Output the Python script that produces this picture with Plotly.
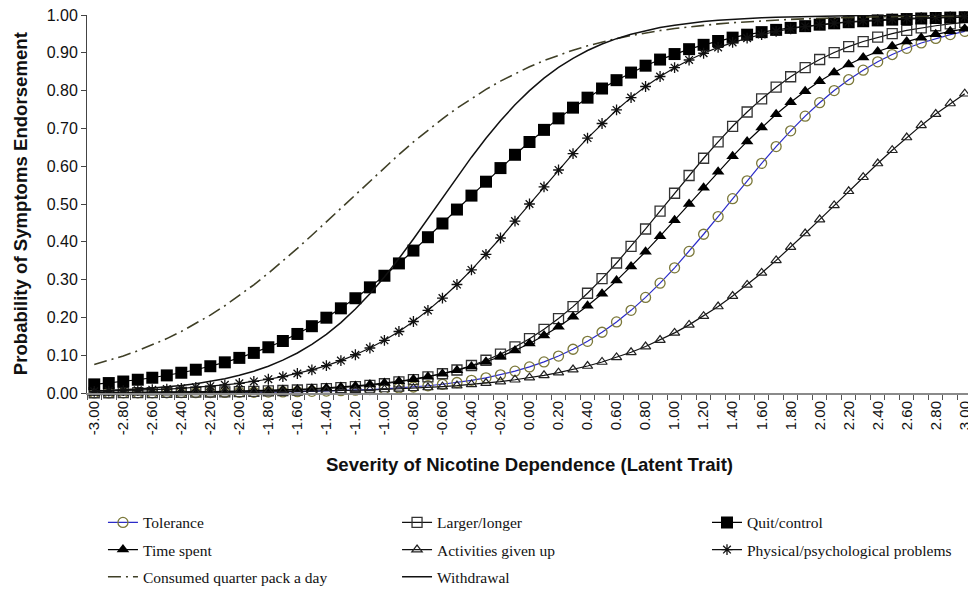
import plotly.graph_objects as go

theta = [-3.0, -2.9, -2.8, -2.7, -2.6, -2.5, -2.4, -2.3, -2.2, -2.1,
         -2.0, -1.9, -1.8, -1.7, -1.6, -1.5, -1.4, -1.3, -1.2, -1.1,
         -1.0, -0.9, -0.8, -0.7, -0.6, -0.5, -0.4, -0.3, -0.2, -0.1,
         0.0, 0.1, 0.2, 0.3, 0.4, 0.5, 0.6, 0.7, 0.8, 0.9,
         1.0, 1.1, 1.2, 1.3, 1.4, 1.5, 1.6, 1.7, 1.8, 1.9,
         2.0, 2.1, 2.2, 2.3, 2.4, 2.5, 2.6, 2.7, 2.8, 2.9, 3.0]

tolerance = [0.0002, 0.0003, 0.0004, 0.0004, 0.0005, 0.0006, 0.0008, 0.0009, 0.0011, 0.0014,
             0.0017, 0.0020, 0.0024, 0.0029, 0.0035, 0.0043, 0.0051, 0.0062, 0.0075, 0.0091,
             0.0110, 0.0132, 0.0159, 0.0192, 0.0231, 0.0278, 0.0335, 0.0402, 0.0482, 0.0577,
             0.0690, 0.0822, 0.0977, 0.1158, 0.1367, 0.1607, 0.1880, 0.2187, 0.2529, 0.2905,
             0.3311, 0.3745, 0.4200, 0.4668, 0.5142, 0.5614, 0.6075, 0.6518, 0.6936, 0.7324,
             0.7680, 0.8001, 0.8288, 0.8540, 0.8762, 0.8954, 0.9119, 0.9260, 0.9380, 0.9482, 0.9568]

larger_longer = [0.0006, 0.0007, 0.0008, 0.0010, 0.0012, 0.0015, 0.0018, 0.0021, 0.0026, 0.0031,
                 0.0037, 0.0045, 0.0055, 0.0066, 0.0080, 0.0096, 0.0116, 0.0140, 0.0169, 0.0203,
                 0.0245, 0.0294, 0.0354, 0.0425, 0.0509, 0.0609, 0.0727, 0.0866, 0.1028, 0.1218,
                 0.1436, 0.1685, 0.1969, 0.2286, 0.2639, 0.3024, 0.3439, 0.3879, 0.4339, 0.4810,
                 0.5285, 0.5754, 0.6210, 0.6646, 0.7056, 0.7434, 0.7780, 0.8091, 0.8367, 0.8610,
                 0.8823, 0.9006, 0.9164, 0.9298, 0.9413, 0.9509, 0.9591, 0.9659, 0.9716, 0.9765, 0.9804]

quit_control = [0.0228, 0.0263, 0.0304, 0.0351, 0.0404, 0.0466, 0.0536, 0.0616, 0.0708, 0.0811,
                0.0929, 0.1061, 0.1210, 0.1376, 0.1562, 0.1767, 0.1992, 0.2240, 0.2507, 0.2795,
                0.3102, 0.3428, 0.3768, 0.4121, 0.4484, 0.4853, 0.5222, 0.5590, 0.5950, 0.6302,
                0.6640, 0.6961, 0.7265, 0.7549, 0.7813, 0.8055, 0.8276, 0.8477, 0.8659, 0.8821,
                0.8967, 0.9096, 0.9211, 0.9312, 0.9401, 0.9479, 0.9547, 0.9607, 0.9659, 0.9705,
                0.9744, 0.9779, 0.9809, 0.9835, 0.9857, 0.9877, 0.9893, 0.9908, 0.9920, 0.9931, 0.9941]

time_spent = [0.0009, 0.0010, 0.0012, 0.0015, 0.0017, 0.0020, 0.0024, 0.0029, 0.0034, 0.0041,
              0.0048, 0.0057, 0.0068, 0.0080, 0.0095, 0.0113, 0.0134, 0.0159, 0.0188, 0.0222,
              0.0263, 0.0311, 0.0367, 0.0433, 0.0510, 0.0600, 0.0704, 0.0826, 0.0966, 0.1126,
              0.1310, 0.1519, 0.1754, 0.2017, 0.2308, 0.2627, 0.2973, 0.3345, 0.3738, 0.4148,
              0.4571, 0.5000, 0.5429, 0.5852, 0.6262, 0.6655, 0.7027, 0.7373, 0.7692, 0.7983,
              0.8246, 0.8481, 0.8690, 0.8874, 0.9034, 0.9174, 0.9296, 0.9400, 0.9490, 0.9567, 0.9633]

activities_given_up = [0.0005, 0.0005, 0.0006, 0.0007, 0.0009, 0.0010, 0.0012, 0.0013, 0.0016, 0.0018,
                       0.0021, 0.0024, 0.0028, 0.0033, 0.0038, 0.0044, 0.0051, 0.0060, 0.0069, 0.0080,
                       0.0093, 0.0108, 0.0126, 0.0145, 0.0169, 0.0196, 0.0226, 0.0262, 0.0303, 0.0351,
                       0.0405, 0.0468, 0.0539, 0.0621, 0.0714, 0.0820, 0.0941, 0.1077, 0.1229, 0.1400,
                       0.1591, 0.1802, 0.2034, 0.2288, 0.2564, 0.2860, 0.3176, 0.3509, 0.3858, 0.4219,
                       0.4588, 0.4963, 0.5337, 0.5708, 0.6071, 0.6422, 0.6759, 0.7079, 0.7379, 0.7659, 0.7917]

physical_psych = [0.0042, 0.0051, 0.0061, 0.0073, 0.0087, 0.0105, 0.0125, 0.0150, 0.0179, 0.0214,
                  0.0256, 0.0305, 0.0364, 0.0433, 0.0516, 0.0612, 0.0726, 0.0858, 0.1012, 0.1190,
                  0.1394, 0.1627, 0.1891, 0.2186, 0.2512, 0.2870, 0.3256, 0.3668, 0.4100, 0.4546,
                  0.5000, 0.5454, 0.5900, 0.6332, 0.6744, 0.7130, 0.7488, 0.7814, 0.8109, 0.8373,
                  0.8606, 0.8810, 0.8988, 0.9142, 0.9274, 0.9388, 0.9484, 0.9567, 0.9636, 0.9695,
                  0.9744, 0.9786, 0.9821, 0.9850, 0.9875, 0.9895, 0.9913, 0.9927, 0.9939, 0.9949, 0.9958]

consumed_quarter = [0.0753, 0.0860, 0.0981, 0.1117, 0.1269, 0.1439, 0.1627, 0.1833, 0.2061, 0.2309,
                    0.2576, 0.2863, 0.3168, 0.3490, 0.3826, 0.4174, 0.4530, 0.4891, 0.5254, 0.5613,
                    0.5967, 0.6310, 0.6641, 0.6956, 0.7254, 0.7533, 0.7793, 0.8032, 0.8251, 0.8451,
                    0.8631, 0.8794, 0.8939, 0.9069, 0.9185, 0.9287, 0.9377, 0.9456, 0.9527, 0.9588,
                    0.9641, 0.9688, 0.9729, 0.9765, 0.9796, 0.9823, 0.9847, 0.9867, 0.9885, 0.9900,
                    0.9913, 0.9925, 0.9935, 0.9944, 0.9952, 0.9958, 0.9964, 0.9968, 0.9973, 0.9976, 0.9980]

withdrawal = [0.0054, 0.0067, 0.0084, 0.0104, 0.0130, 0.0161, 0.0200, 0.0247, 0.0306, 0.0379,
              0.0468, 0.0577, 0.0709, 0.0868, 0.1059, 0.1285, 0.1550, 0.1863, 0.2220, 0.2623,
              0.3070, 0.3557, 0.4076, 0.4616, 0.5165, 0.5710, 0.6239, 0.6739, 0.7203, 0.7624,
              0.7999, 0.8328, 0.8613, 0.8855, 0.9060, 0.9232, 0.9374, 0.9491, 0.9588, 0.9667,
              0.9730, 0.9783, 0.9825, 0.9859, 0.9886, 0.9909, 0.9927, 0.9941, 0.9952, 0.9962,
              0.9969, 0.9975, 0.9980, 0.9984, 0.9987, 0.9990, 0.9992, 0.9993, 0.9995, 0.9996, 0.9997]

x_tick_values = [-3.0, -2.8, -2.6, -2.4, -2.2, -2.0, -1.8, -1.6, -1.4, -1.2, -1.0,
                 -0.8, -0.6, -0.4, -0.2, 0.0, 0.2, 0.4, 0.6, 0.8, 1.0,
                 1.2, 1.4, 1.6, 1.8, 2.0, 2.2, 2.4, 2.6, 2.8, 3.0]
x_tick_labels = ["-3.00", "-2.80", "-2.60", "-2.40", "-2.20", "-2.00", "-1.80", "-1.60", "-1.40", "-1.20", "-1.00",
                 "-0.80", "-0.60", "-0.40", "-0.20", "0.00", "0.20", "0.40", "0.60", "0.80", "1.00",
                 "1.20", "1.40", "1.60", "1.80", "2.00", "2.20", "2.40", "2.60", "2.80", "3.00"]
y_tick_values = [0, 0.1, 0.2, 0.3, 0.4, 0.5, 0.6, 0.7, 0.8, 0.9, 1.0]
category_edges = [-3.05 + 0.1 * i for i in range(62)]

for s in (tolerance, larger_longer, quit_control, time_spent, activities_given_up,
          physical_psych, consumed_quarter, withdrawal):
    assert len(s) == len(theta)

SANS = "Liberation Sans, Arial, sans-serif"
SERIF = "Liberation Serif, Times New Roman, serif"

fig = go.Figure()

def add(name, y, legend, line, marker=None, mode="lines+markers"):
    fig.add_trace(go.Scatter(
        x=theta, y=y, name=name, mode=mode, line=line, marker=marker,
        legend=legend, legendgroup=name, cliponaxis=False,
    ))

add("Tolerance", tolerance, "legend",
    dict(color="#2b2bc8", width=1.2),
    dict(symbol="circle-open", size=10, color="#7b783a", line=dict(width=1.3, color="#7b783a")))
add("Larger/longer", larger_longer, "legend2",
    dict(color="#111111", width=1.2),
    dict(symbol="square-open", size=10, color="#333333", line=dict(width=1.3, color="#333333")))
add("Quit/control", quit_control, "legend3",
    dict(color="#000000", width=1.2),
    dict(symbol="square", size=12, color="#000000"))
add("Time spent", time_spent, "legend",
    dict(color="#000000", width=1.2),
    dict(symbol="triangle-up", size=11, color="#000000"))
add("Activities given up", activities_given_up, "legend2",
    dict(color="#111111", width=1.2),
    dict(symbol="triangle-up-open", size=9, color="#222222", line=dict(width=1.2, color="#222222")))
add("Physical/psychological problems", physical_psych, "legend3",
    dict(color="#111111", width=1.2),
    dict(symbol="asterisk-open", size=9, color="#111111", line=dict(width=1.3, color="#111111")))
add("Consumed quarter pack a day", consumed_quarter, "legend",
    dict(color="#3f3f26", width=1.6, dash="13px,5px,2px,5px"), None, mode="lines")
add("Withdrawal", withdrawal, "legend2",
    dict(color="#111111", width=1.5), None, mode="lines")

legend_common = dict(
    xref="container", yref="container", xanchor="left", yanchor="top",
    orientation="v", tracegroupgap=4, bgcolor="rgba(0,0,0,0)",
    font=dict(family=SERIF, size=15.5, color="#111111"), itemwidth=30,
)

# The page body adds an 8px margin, so the figure is drawn 8px smaller and offset.
fig.update_layout(
    width=968, height=585,
    margin=dict(l=79, r=4, t=7, b=200, autoexpand=False),
    paper_bgcolor="white", plot_bgcolor="white",
    showlegend=True,
    legend=dict(x=0.0981, y=0.149, **legend_common),
    legend2=dict(x=0.4019, y=0.149, **legend_common),
    legend3=dict(x=0.7221, y=0.149, **legend_common),
    xaxis=dict(
        range=[-3.05, 3.05], showgrid=False, zeroline=False, automargin=False,
        tickmode="array", tickvals=x_tick_values, ticktext=x_tick_labels,
        tickangle=-90, ticks="", ticklen=0, ticklabeloverflow="allow",
        tickfont=dict(family=SANS, size=15, color="#111111"),
        showline=True, linecolor="#8a8a8a", linewidth=2,
        minor=dict(tickmode="array", tickvals=category_edges, ticks="outside",
                   ticklen=5, tickcolor="#555555", tickwidth=1),
        title=dict(text="<b>Severity of Nicotine Dependence (Latent Trait)</b>",
                   font=dict(family=SANS, size=18.6, color="#111111"), standoff=24),
    ),
    yaxis=dict(
        range=[0, 1], showgrid=False, zeroline=False, automargin=False,
        tickmode="array", tickvals=y_tick_values, ticklabeloverflow="allow",
        tickformat=".2f", ticks="outside", ticklen=5, tickcolor="#444444",
        tickfont=dict(family=SANS, size=16, color="#111111"),
        showline=True, linecolor="#444444", linewidth=1,
    ),
    annotations=[dict(
        text="<b>Probability of Symptoms Endorsement</b>",
        xref="paper", yref="paper", x=-0.0755, y=0.5, xanchor="center", yanchor="middle",
        textangle=-90, showarrow=False,
        font=dict(family=SANS, size=18.6, color="#111111"),
    )],
)

fig.write_html("out.html")
